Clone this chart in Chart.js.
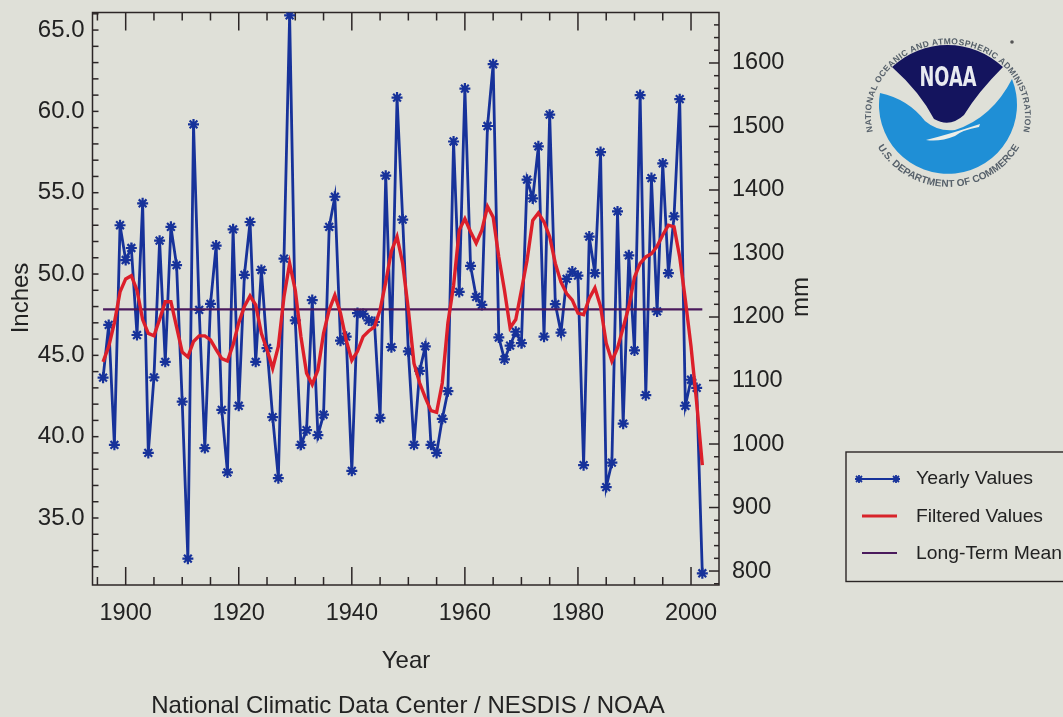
<!DOCTYPE html>
<html><head><meta charset="utf-8">
<style>
html,body{margin:0;padding:0;background:#dfe0d8;overflow:hidden}
#wrap{position:absolute;left:0;top:0;width:1063px;height:717px}
canvas{position:absolute;left:0;top:0;filter:blur(.45px)}
svg{position:absolute;left:0;top:0;filter:blur(.45px)}
</style>
<script src="https://cdn.jsdelivr.net/npm/chart.js@4"></script>
</head><body><div id="wrap"><canvas id="c" width="1063" height="717"></canvas>
<svg width="1063" height="717" viewBox="0 0 1063 717" font-family="Liberation Sans, Arial, sans-serif">
  <!-- legend -->
  <rect x="846" y="452" width="230" height="129.5" fill="none" stroke="#2b2626" stroke-width="1.4"/>
  <line x1="858" y1="479" x2="897" y2="479" stroke="#17329a" stroke-width="2"/>
  <g stroke="#17329a" stroke-width="1.8">
    <path d="M855 479h8M859 475v8M856 476l6 6M856 482l6-6"/>
    <path d="M892 479h8M896 475v8M893 476l6 6M893 482l6-6"/>
  </g>
  <line x1="862" y1="516" x2="897" y2="516" stroke="#d8242a" stroke-width="3"/>
  <line x1="862" y1="553" x2="897" y2="553" stroke="#4a1a5c" stroke-width="2"/>
  <g font-size="19" fill="#222">
    <text x="916" y="484" textLength="117" lengthAdjust="spacingAndGlyphs">Yearly Values</text>
    <text x="916" y="522" textLength="127" lengthAdjust="spacingAndGlyphs">Filtered Values</text>
    <text x="916" y="559" textLength="146" lengthAdjust="spacingAndGlyphs">Long-Term Mean</text>
  </g>
  <!-- NOAA logo -->
  <path d="M880 93 Q908 99 925 121 Q938 132 955 130 Q992 118 1012 79 A69 69 0 1 1 880 93Z" fill="#1f8fd6"/>
  <path d="M892 67 A81 81 0 0 1 1003 67 Q978 92 964 115 Q950 128 934 119 Q920 92 892 67Z" fill="#14145e"/>
  <path d="M926 140 Q950 134 980 124 L979 127 Q962 130 955 136 Q940 142 926 140Z" fill="#eceee8"/>
  <text x="948" y="86" text-anchor="middle" font-family="DejaVu Sans" font-weight="bold" font-size="26" fill="#e8eaf0" textLength="57" lengthAdjust="spacingAndGlyphs">NOAA</text>
  <circle cx="1012" cy="42" r="1.8" fill="#555"/>
  <defs>
    <path id="arcTop" d="M874 136 A77 72 0 1 1 1022 136"/>
    <path id="arcBot" d="M877 146 A83 83 0 0 0 1020 146"/>
  </defs>
  <text font-size="8.5" fill="#56606a" font-weight="bold" textLength="265"><textPath href="#arcTop" startOffset="50%" text-anchor="middle">NATIONAL OCEANIC AND ATMOSPHERIC ADMINISTRATION</textPath></text>
  <text font-size="10" fill="#56606a" font-weight="bold"><textPath href="#arcBot" startOffset="50%" text-anchor="middle">U.S. DEPARTMENT OF COMMERCE</textPath></text>
</svg></div>
<script>
const years = [1896,1897,1898,1899,1900,1901,1902,1903,1904,1905,1906,1907,1908,1909,1910,1911,1912,1913,1914,1915,1916,1917,1918,1919,1920,1921,1922,1923,1924,1925,1926,1927,1928,1929,1930,1931,1932,1933,1934,1935,1936,1937,1938,1939,1940,1941,1942,1943,1944,1945,1946,1947,1948,1949,1950,1951,1952,1953,1954,1955,1956,1957,1958,1959,1960,1961,1962,1963,1964,1965,1966,1967,1968,1969,1970,1971,1972,1973,1974,1975,1976,1977,1978,1979,1980,1981,1982,1983,1984,1985,1986,1987,1988,1989,1990,1991,1992,1993,1994,1995,1996,1997,1998,1999,2000,2001,2002];
const yearlyValues = [43.63,46.87,39.5,53.0,50.86,51.6,46.25,54.35,39.0,43.65,52.05,44.6,52.9,50.55,42.15,32.5,59.2,47.8,39.3,48.16,51.75,41.65,37.8,52.75,41.9,49.95,53.2,44.6,50.25,45.45,41.2,37.45,50.95,65.9,47.15,39.5,40.4,48.4,40.1,41.35,52.9,54.75,45.9,46.15,37.9,47.6,47.55,47.15,47.05,41.15,56.05,45.5,60.85,53.35,45.25,39.5,44.05,45.55,39.5,39.0,41.1,42.8,58.15,48.9,61.4,50.5,48.6,48.1,59.1,62.9,46.1,44.75,45.6,46.45,45.75,55.8,54.65,57.85,46.15,59.8,48.15,46.4,49.7,50.15,49.9,38.25,52.3,50.05,57.5,36.9,38.4,53.85,40.8,51.15,45.3,61.0,42.55,55.9,47.7,56.8,50.05,53.55,60.75,41.9,43.5,43.0,31.6];
const filteredValues = [44.6,45.55,47.0,48.9,49.7,49.9,49.0,47.2,46.35,46.2,47.2,48.3,48.3,46.75,45.2,44.9,45.85,46.2,46.2,45.95,45.35,44.8,44.65,45.65,47.0,48.0,48.65,48.1,46.35,45.35,44.2,45.55,48.6,50.65,49.0,46.15,43.9,43.2,44.1,46.35,47.8,48.7,47.6,45.95,44.7,45.25,46.15,46.5,46.75,47.8,49.5,51.4,52.3,50.65,47.8,44.5,43.3,42.4,41.6,41.5,43.3,47.0,49.3,52.7,53.4,52.6,51.9,52.7,54.15,53.5,51.05,49.0,46.7,47.2,49.0,50.85,53.3,53.75,53.2,52.3,50.65,49.5,48.8,48.4,47.6,47.5,48.5,49.15,48.0,45.75,44.65,45.45,46.7,48.0,49.8,50.65,51.05,51.25,51.7,52.4,53.0,52.9,51.05,48.4,45.55,42.1,38.25];
const longTermMean = 47.83;
const inchLabelTicks = [35,40,45,50,55,60,65];
const inchTicks = [32,33,34,35,36,37,38,39,40,41,42,43,44,45,46,47,48,49,50,51,52,53,54,55,56,57,58,59,60,61,62,63,64,65,66];
const mmMajorTicks = [800,900,1000,1100,1200,1300,1400,1500,1600];
const mmMinorTicks = [780,820,840,860,880,920,940,960,980,1020,1040,1060,1080,1120,1140,1160,1180,1220,1240,1260,1280,1320,1340,1360,1380,1420,1440,1460,1480,1520,1540,1560,1580,1620,1640,1660];
const yearMajorTicks = [1900,1920,1940,1960,1980,2000];
const yearMinorTicks = [1895,1905,1910,1915,1925,1930,1935,1945,1950,1955,1965,1970,1975,1985,1990,1995];

const INK = '#2c2626';
const FONT = '"Liberation Sans", Arial, sans-serif';
const asTicks = list => s => { s.ticks = list.map(v => ({value:v})); };
const noOverhang = s => { s.paddingTop = s.paddingBottom = s.paddingLeft = s.paddingRight = 0; };

const frame = {
  id:'frame',
  beforeDatasetsDraw(ch){
    const {ctx,chartArea:a,scales:s}=ch;
    ctx.save();
    ctx.strokeStyle=INK; ctx.lineWidth=1.5;
    ctx.strokeRect(a.left,a.top,a.right-a.left,a.bottom-a.top);
    const v=(val,len)=>{const x=s.x.getPixelForValue(val);
      ctx.beginPath();ctx.moveTo(x,a.top);ctx.lineTo(x,a.top+len);
      ctx.moveTo(x,a.bottom);ctx.lineTo(x,a.bottom-len);ctx.stroke();};
    yearMajorTicks.forEach(t=>v(t,18));
    yearMinorTicks.forEach(t=>v(t,8));
    inchTicks.forEach(t=>{const y=s.y.getPixelForValue(t);
      ctx.beginPath();ctx.moveTo(a.left,y);ctx.lineTo(a.left+6,y);ctx.stroke();});
    const r=(t,len)=>{const y=s.mm.getPixelForValue(t);
      ctx.beginPath();ctx.moveTo(a.right,y);ctx.lineTo(a.right-len,y);ctx.stroke();};
    mmMajorTicks.forEach(t=>r(t,10));
    mmMinorTicks.forEach(t=>r(t,5));
    ctx.restore();
  },
  afterDraw(ch){
    const {ctx}=ch;
    ctx.save();
    ctx.fillStyle='#222';ctx.textAlign='center';ctx.textBaseline='middle';
    ctx.font='24px '+FONT;
    const rot=(t,x,y)=>{ctx.save();ctx.translate(x,y);ctx.rotate(-Math.PI/2);ctx.fillText(t,0,0);ctx.restore();};
    rot('Inches',21,298);
    rot('mm',801,297);
    ctx.fillText('Year',406,661);
    ctx.fillText('National Climatic Data Center / NESDIS / NOAA',408,706);
    ctx.restore();
  }
};

new Chart(document.getElementById('c'),{
  type:'line',
  data:{datasets:[
    {label:'Yearly Values',data:years.map((y,i)=>({x:y,y:yearlyValues[i]})),yAxisID:'y',borderColor:'#17329a',backgroundColor:'#17329a',borderWidth:2.8,pointStyle:'star',pointRadius:5.5,pointBorderWidth:2.2,pointBorderColor:'#17329a',tension:0,order:3},
    {label:'Long-Term Mean',data:[{x:years[0],y:longTermMean},{x:years[years.length-1],y:longTermMean}],yAxisID:'y',borderColor:'#4a1a5c',borderWidth:2.2,pointRadius:0,tension:0,order:2},
    {label:'Filtered Values',data:years.map((y,i)=>({x:y,y:filteredValues[i]})),yAxisID:'y',borderColor:'#dc1f2a',borderWidth:3.4,pointRadius:0,tension:0,order:1}
  ]},
  options:{
    responsive:false,animation:false,devicePixelRatio:1,
    layout:{padding:{top:12.5,left:0,right:0,bottom:0}},
    plugins:{legend:{display:false},title:{display:false},tooltip:{enabled:false}},
    scales:{
      x:{type:'linear',min:1894.13,max:2004.95,
        grid:{display:false},border:{display:false},
        afterBuildTicks:asTicks(yearMajorTicks),
        afterFit(s){noOverhang(s);s.height=717-585;},
        ticks:{maxRotation:0,autoSkip:false,padding:6,color:'#222',font:{size:23.5,family:FONT},callback:v=>String(v)}},
      y:{type:'linear',position:'left',min:30.88,max:66.08,
        grid:{display:false},border:{display:false},
        afterBuildTicks:asTicks(inchLabelTicks),
        afterFit(s){noOverhang(s);s.width=92.5;},
        ticks:{autoSkip:false,padding:0,color:'#222',font:{size:24,family:FONT},callback:v=>v.toFixed(1)}},
      mm:{type:'linear',position:'right',min:778,max:1679.5,
        grid:{display:false},border:{display:false},
        afterBuildTicks:asTicks(mmMajorTicks),
        afterFit(s){noOverhang(s);s.width=1063-719;},
        ticks:{autoSkip:false,padding:5,color:'#222',font:{size:23.5,family:FONT},callback:v=>String(v)}}
    }
  },
  plugins:[frame]
});
</script></body></html>
